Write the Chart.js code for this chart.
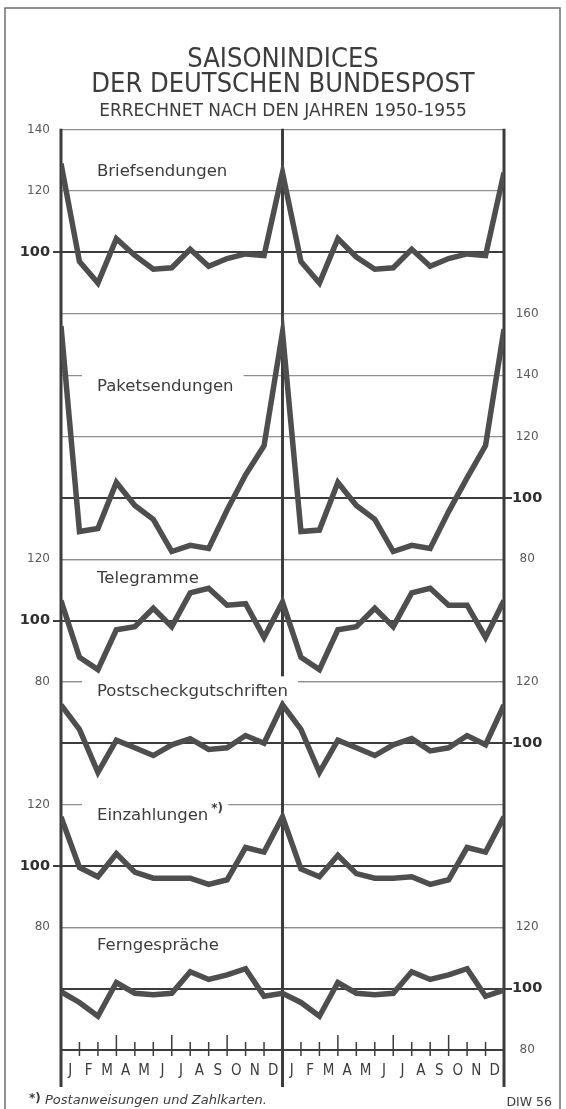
<!DOCTYPE html>
<html>
<head>
<meta charset="utf-8">
<title>Saisonindices der Deutschen Bundespost</title>
<script src="https://cdn.jsdelivr.net/npm/chart.js@4.4.0/dist/chart.umd.min.js"></script>
<style>
  html, body { margin: 0; padding: 0; background: #fff; }
  #wrap { position: relative; width: 566px; height: 1109px; }
</style>
</head>
<body>
<div id="wrap"><canvas id="postChart" width="566" height="1109"></canvas></div>
<script>
// month letters, shown between the month boundaries
const MONTHS = ["J", "F", "M", "A", "M", "J", "J", "A", "S", "O", "N", "D"];

// values sit on the month boundaries: Dez | Jan ... Dez | Jan ... Dez
const briefsendungen = [129, 97, 90, 104.5, 99, 94.5, 95, 101, 95.5, 98, 99.5, 99, 126,
                        97, 90, 104.5, 98.5, 94.5, 95, 101, 95.5, 98, 99.5, 99, 126];
const paketsendungen = [156, 89, 90, 105, 97.5, 93, 82.5, 84.5, 83.5, 96, 107.5, 117, 154,
                        89, 89.5, 105, 97.5, 93, 82.5, 84.5, 83.5, 95.5, 106.5, 117, 155];
const telegramme = [106.5, 88, 84, 97, 98, 104, 98, 109, 110.5, 105, 105.5, 94.5, 106,
                    88, 84, 97, 98, 104, 98, 109, 110.5, 105, 105, 94.5, 106.5];
const postscheckgutschriften = [112.5, 104.5, 90.5, 101, 98.5, 96, 99.5, 101.5, 98, 98.5, 102.5, 100, 112.5,
                                104.5, 90.5, 101, 98.5, 96, 99.5, 101.5, 97.5, 98.5, 102.5, 99.5, 112.5];
const einzahlungen = [116, 99.5, 96.5, 104, 98, 96, 96, 96, 94, 95.5, 106, 104.5, 116,
                      99, 96.5, 103.5, 97.5, 96, 96, 96.5, 94, 95.5, 106, 104.5, 116];
const ferngespraeche = [99, 95.5, 91, 102, 98.5, 98, 98.5, 105.5, 103, 104.5, 106.5, 97.5, 98.5,
                        95.5, 91, 102, 98.5, 98, 98.5, 105.5, 103, 104.5, 106.5, 97.5, 99.5];

// axis labels of each panel
const briefTicks = [140, 120, 100];
const paketTicks = [160, 140, 120, 100, 80];
const teleTicks = [120, 100, 80];
const postTicks = [120, 100];
const einzTicks = [120, 100, 80];
const fernTicks = [120, 100, 80];

const INK = "#3c3c3c";
const LINE_COLOR = "#4e4e4e";
const GRID_COLOR = "#8e8e8e";
const NARROW = "'Liberation Sans Narrow', 'DejaVu Sans Condensed', 'Arial Narrow', sans-serif";
const SANS = "'DejaVu Sans', Verdana, sans-serif";

const STEP = 20;   // one grid row
const ROWS = 15;   // grid rows from top to bottom of the plot

// row = grid row (from the top) where the panel's highest tick lies
const panels = [
    {id: "brief", name: "Briefsendungen", data: briefsendungen, ticks: briefTicks, side: "left", row: 0, labelAt: 124.8, main: true},
    {id: "paket", name: "Paketsendungen", data: paketsendungen, ticks: paketTicks, side: "right", row: 3, labelAt: 134.9, main: true},
    {id: "tele", name: "Telegramme", data: telegramme, ticks: teleTicks, side: "left", row: 7, labelAt: 112.1},
    {id: "post", name: "Postscheckgutschriften", data: postscheckgutschriften, ticks: postTicks, side: "right", row: 9, labelAt: 115.3},
    {id: "einz", name: "Einzahlungen", note: "*)", data: einzahlungen, ticks: einzTicks, side: "left", row: 11, labelAt: 115},
    {id: "fern", name: "Ferngespräche", data: ferngespraeche, ticks: fernTicks, side: "right", row: 13, labelAt: 112.6}
];

const isHundred = c => c.tick && c.tick.value === 100;

const panelScale = (p, i) => {
    const max = p.ticks[0] + p.row * STEP;
    return {
        type: "linear",
        position: p.side,
        min: max - ROWS * STEP,
        max: max,
        weight: p.main ? 10 : i,
        afterBuildTicks: s => { s.ticks = p.ticks.map(v => ({value: v})); },
        afterFit: s => { s.width = p.main ? (p.side === "left" ? 61 : 62) : 0; },
        border: {display: false},
        grid: {
            color: c => isHundred(c) ? INK : GRID_COLOR,
            lineWidth: c => isHundred(c) ? 2 : 1.2,
            tickLength: 8,
            tickWidth: 2,
            tickColor: c => isHundred(c) ? INK : "rgba(0,0,0,0)"
        },
        ticks: {
            padding: p.side === "left" ? 3 : 0,
            crossAlign: p.side === "left" ? "near" : "center",
            color: c => isHundred(c) ? "#2e2e2e" : "#5a5a5a",
            font: c => isHundred(c) ? {family: SANS, size: 14.5, weight: "bold"} : {family: SANS, size: 12},
            callback: v => v
        }
    };
};

const scales = {
    x: {
        type: "linear",
        min: 0,
        max: 24,
        afterBuildTicks: s => { s.ticks = MONTHS.concat(MONTHS).map((m, i) => ({value: i + 0.5})); },
        afterFit: s => { s.height = 59; },
        grid: {display: false},
        border: {display: true, color: INK, width: 2},
        ticks: {
            autoSkip: false,
            maxRotation: 0,
            padding: 4,
            color: INK,
            font: {family: NARROW, size: 15},
            callback: v => MONTHS[Math.floor(v) % 12]
        }
    }
};
panels.forEach((p, i) => { scales[p.id] = panelScale(p, i); });

const datasets = panels.map(p => ({
    label: p.name,
    yAxisID: p.id,
    data: p.data.map((v, i) => ({x: i, y: v})),
    borderColor: LINE_COLOR,
    borderWidth: 5.5,
    borderJoinStyle: "miter",
    pointRadius: 0,
    tension: 0,
    fill: false
}));

// the panels without their own axis box share the box of the main axis on their side
const shareAxisBox = {
    id: "shareAxisBox",
    afterLayout(chart) {
        const main = {left: chart.scales.brief, right: chart.scales.paket};
        panels.filter(p => !p.main).forEach(p => {
            const s = chart.scales[p.id];
            s.left = main[p.side].left;
            s.right = main[p.side].right;
            s.width = s.right - s.left;
        });
    }
};

// frame, axes, month ticks, panel names, footnote
const decor = {
    id: "decor",
    beforeDatasetsDraw(chart) {
        const {ctx, chartArea: a} = chart;
        const x = chart.scales.x;
        ctx.save();
        ctx.strokeStyle = "#6e6e6e";
        ctx.lineWidth = 1.5;
        ctx.strokeRect(5, 8, chart.width - 11, chart.height + 20);

        ctx.strokeStyle = INK;
        ctx.lineWidth = 3;
        [0, 12, 24].forEach(v => {
            const px = x.getPixelForValue(v);
            ctx.beginPath();
            ctx.moveTo(px, a.top - 1);
            ctx.lineTo(px, a.bottom + 37);
            ctx.stroke();
        });

        ctx.lineWidth = 1.5;
        for (let i = 1; i < 24; i++) {
            if (i === 12) continue;
            const px = x.getPixelForValue(i);
            ctx.beginPath();
            ctx.moveTo(px, a.bottom - (i % 3 === 0 ? 15 : 8));
            ctx.lineTo(px, a.bottom + 6);
            ctx.stroke();
        }

        ctx.textBaseline = "alphabetic";
        ctx.textAlign = "left";
        panels.forEach(p => {
            ctx.font = "16.5px " + SANS;
            const lx = x.getPixelForValue(1.95);
            const ly = chart.scales[p.id].getPixelForValue(p.labelAt);
            const w = ctx.measureText(p.name).width + (p.note ? 10 : 0);
            ctx.fillStyle = "#fff";
            ctx.fillRect(lx - 15, ly - 20, w + 25, 25);
            ctx.fillStyle = INK;
            ctx.fillText(p.name, lx, ly);
            if (p.note) {
                ctx.font = "bold 12px " + SANS;
                ctx.fillText(p.note, lx + w - 7, ly - 8);
            }
        });
        ctx.restore();
    },
    afterDraw(chart) {
        const ctx = chart.ctx;
        ctx.save();
        ctx.fillStyle = INK;
        ctx.textBaseline = "alphabetic";
        ctx.textAlign = "left";
        ctx.font = "bold 12px " + SANS;
        ctx.fillText("*)", 29, 1102);
        ctx.font = "italic 13px " + SANS;
        ctx.fillText("Postanweisungen und Zahlkarten.", 45, 1104);
        ctx.textAlign = "right";
        ctx.font = "12.5px " + SANS;
        ctx.fillText("DIW 56", 552, 1106);
        ctx.restore();
    }
};

const ctx = document.getElementById("postChart").getContext("2d");
const postChart = new Chart(ctx, {
    type: "line",
    data: {datasets: datasets},
    options: {
        responsive: false,
        animation: false,
        devicePixelRatio: 1,
        layout: {padding: 0},
        plugins: {
            legend: {display: false},
            tooltip: {enabled: false},
            title: {
                display: true,
                text: ["SAISONINDICES", "DER DEUTSCHEN BUNDESPOST"],
                color: INK,
                font: {family: NARROW, size: 27, weight: "normal", lineHeight: 0.95},
                padding: {top: 47, bottom: 0}
            },
            subtitle: {
                display: true,
                text: "ERRECHNET NACH DEN JAHREN 1950-1955",
                color: INK,
                font: {family: SANS, size: 17, lineHeight: 1.2},
                padding: {top: 3, bottom: 8}
            }
        },
        scales: scales
    },
    plugins: [shareAxisBox, decor]
});
</script>
</body>
</html>
